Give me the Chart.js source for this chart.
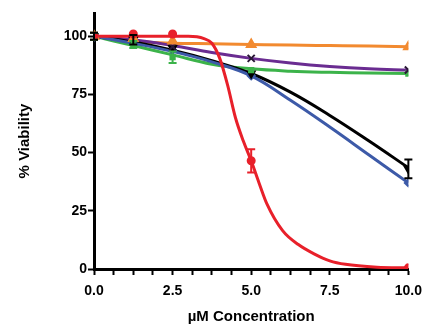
<!DOCTYPE html>
<html>
<head>
<meta charset="utf-8">
<script src="https://cdn.jsdelivr.net/npm/chart.js@4.4.1/dist/chart.umd.min.js"></script>
<style>
  html, body { margin: 0; padding: 0; background: #fff; }
  #wrap { width: 430px; height: 331px; }
</style>
</head>
<body>
<div id="wrap"><canvas id="grafico"></canvas></div>
<script>
// concentraciones medidas (uM)
const concentraciones = [0, 1.25, 2.5, 5, 10]

// % viabilidad medida en cada concentracion
const rojo = [100, 101, 101, 46.5, 0.5]
const naranja = [100, 99, 98, 96.5, 95.5]
const morado = [100, 99, 95.5, 90.5, 85.5]
const verde = [100, 96.5, 91, 85.5, 84]
const negro = [100, 98.5, 95, 84, 43]
const azul = [99.5, 98, 94, 83, 37]

// barras de error (SEM)
const err_rojo = [1.5, 0, 0, 5, 0]
const err_verde = [1.5, 1.5, 2.5, 0, 0]
const err_negro = [1.5, 2, 0, 0, 4]

// curvas ajustadas
const ajuste_x = [0, 1.25, 2.5, 3.75, 5, 6.25, 7.5, 8.75, 10]
const ajuste_naranja = [100, 98, 97, 96.8, 96.5, 96.2, 96, 95.8, 95.5]
const ajuste_morado = [100, 98.5, 96, 93, 90.5, 88.5, 87, 86, 85.5]
const ajuste_verde = [100, 96, 92, 88, 86, 85, 84.5, 84.2, 84]
const ajuste_negro = [100, 97.5, 94, 89.5, 84, 76, 66, 55, 43.5]
const ajuste_azul = [100, 97, 93.5, 89, 83, 72.5, 61, 49, 37]

const ajuste_rojo_x = [0, 1.25, 2.5, 3, 3.5, 3.75, 4, 4.25, 4.5, 4.75, 5, 5.25, 5.5, 6, 6.5, 7, 7.5, 8, 9, 10]
const ajuste_rojo = [100, 100, 100, 100, 99, 97, 90.5, 79, 65, 55, 46.5, 37, 28, 16.5, 10.5, 6.5, 3.5, 2, 0.8, 0.5]

// ticks
const ticks_y = [0, 25, 50, 75, 100]
const ticks_x = [0, 0.625, 1.25, 1.875, 2.5, 3.125, 3.75, 4.375, 5, 5.625, 6.25, 6.875, 7.5, 8.125, 8.75, 9.375, 10]
const etiquetas_x = [0, 2.5, 5, 7.5, 10]

const ROJO = '#e8202a'
const NARANJA = '#f28a30'
const MORADO = '#6a2c91'
const VERDE = '#3cb34a'
const NEGRO = '#000000'
const AZUL = '#3d5aa8'

function puntos(xs, ys) {
    return xs.map((x, i) => ({ x: x, y: ys[i] }))
}

function curva(xs, ys, color, orden, monotona) {
    return {
        type: 'line',
        data: puntos(xs, ys),
        borderColor: color,
        borderWidth: 3,
        pointRadius: 0,
        cubicInterpolationMode: monotona ? 'monotone' : 'default',
        tension: 0.4,
        fill: false,
        order: orden
    }
}

function marcadores(ys, color, estilo, radio, errores, orden, rot) {
    return {
        type: 'line',
        data: puntos(concentraciones, ys),
        showLine: false,
        borderColor: color,
        backgroundColor: color,
        pointStyle: estilo,
        pointRadius: radio,
        pointBorderWidth: 2,
        pointRotation: rot || 0,
        errores: errores,
        order: orden
    }
}

// plugin para dibujar barras de error
const barrasError = {
    id: 'barrasError',
    afterDatasetsDraw(chart) {
        const ctx = chart.ctx
        const xs = chart.scales.x
        const ys = chart.scales.y
        chart.data.datasets.forEach(ds => {
            if (!ds.errores) return
            ctx.save()
            ctx.strokeStyle = ds.borderColor
            ctx.lineWidth = 2
            ds.data.forEach((p, i) => {
                const e = ds.errores[i]
                if (!e) return
                const px = xs.getPixelForValue(p.x)
                const y1 = ys.getPixelForValue(p.y + e)
                const y2 = ys.getPixelForValue(p.y - e)
                ctx.beginPath()
                ctx.moveTo(px, y1); ctx.lineTo(px, y2)
                ctx.moveTo(px - 4, y1); ctx.lineTo(px + 4, y1)
                ctx.moveTo(px - 4, y2); ctx.lineTo(px + 4, y2)
                ctx.stroke()
            })
            ctx.restore()
        })
    }
}

document.addEventListener('DOMContentLoaded', () => {
    dibujar_grafico()
})

function dibujar_grafico() {
    const fuente = { family: '"Liberation Sans", Arial, sans-serif', weight: 'bold', size: 14 }

    const config = {
        type: 'line',
        data: {
            datasets: [
                curva(ajuste_rojo_x, ajuste_rojo, ROJO, 1, true),
                curva(ajuste_x, ajuste_naranja, NARANJA, 6, true),
                curva(ajuste_x, ajuste_morado, MORADO, 4),
                curva(ajuste_x, ajuste_verde, VERDE, 5),
                curva(ajuste_x, ajuste_negro, NEGRO, 3),
                curva(ajuste_x, ajuste_azul, AZUL, 2),
                marcadores(rojo, ROJO, 'circle', 3.5, err_rojo, 0),
                marcadores(naranja, NARANJA, 'triangle', 5, null, 0),
                marcadores(morado, '#2b1838', 'crossRot', 5, null, 0),
                marcadores(verde, VERDE, 'rect', 3, err_verde, 0),
                marcadores(negro, NEGRO, 'triangle', 4, err_negro, 0, 180),
                marcadores(azul, AZUL, 'rectRot', 3.5, null, 0)
            ]
        },
        options: {
            responsive: true,
            maintainAspectRatio: false,
            animation: false,
            layout: { padding: { top: 13, right: 18, left: 0, bottom: 0 } },
            plugins: {
                legend: { display: false },
                tooltip: { enabled: false }
            },
            scales: {
                x: {
                    type: 'linear',
                    min: 0,
                    max: 10,
                    afterBuildTicks: (scale) => {
                        scale.ticks = ticks_x.map(v => ({ value: v }))
                    },
                    afterFit: (scale) => { scale.height = 62 },
                    grid: {
                        drawOnChartArea: false,
                        drawTicks: true,
                        tickLength: 6,
                        tickWidth: 2,
                        tickColor: '#000'
                    },
                    border: { display: true, color: '#000', width: 3 },
                    ticks: {
                        autoSkip: false,
                        maxRotation: 0,
                        padding: 8,
                        color: '#000',
                        font: fuente,
                        callback: (v) => etiquetas_x.includes(v) ? v.toFixed(1) : ''
                    },
                    title: {
                        display: true,
                        text: 'µM Concentration',
                        color: '#000',
                        font: { family: '"Liberation Sans", Arial, sans-serif', weight: 'bold', size: 15 },
                        padding: { top: 0, bottom: 5 }
                    }
                },
                y: {
                    type: 'linear',
                    min: 0,
                    max: 110,
                    afterBuildTicks: (scale) => {
                        scale.ticks = ticks_y.map(v => ({ value: v }))
                    },
                    afterFit: (scale) => { scale.width = 94 },
                    grid: {
                        drawOnChartArea: false,
                        drawTicks: true,
                        tickLength: 6,
                        tickWidth: 2,
                        tickColor: '#000'
                    },
                    border: { display: true, color: '#000', width: 3 },
                    ticks: {
                        padding: 1,
                        color: '#000',
                        font: fuente,
                        callback: (v) => String(v)
                    },
                    title: {
                        display: true,
                        text: '% Viability',
                        color: '#000',
                        font: { family: '"Liberation Sans", Arial, sans-serif', weight: 'bold', size: 15 },
                        padding: { top: 16, bottom: 0 }
                    }
                }
            }
        },
        plugins: [barrasError]
    }

    const ctx = document.getElementById('grafico').getContext('2d')
    new Chart(ctx, config)
}
</script>
</body>
</html>
